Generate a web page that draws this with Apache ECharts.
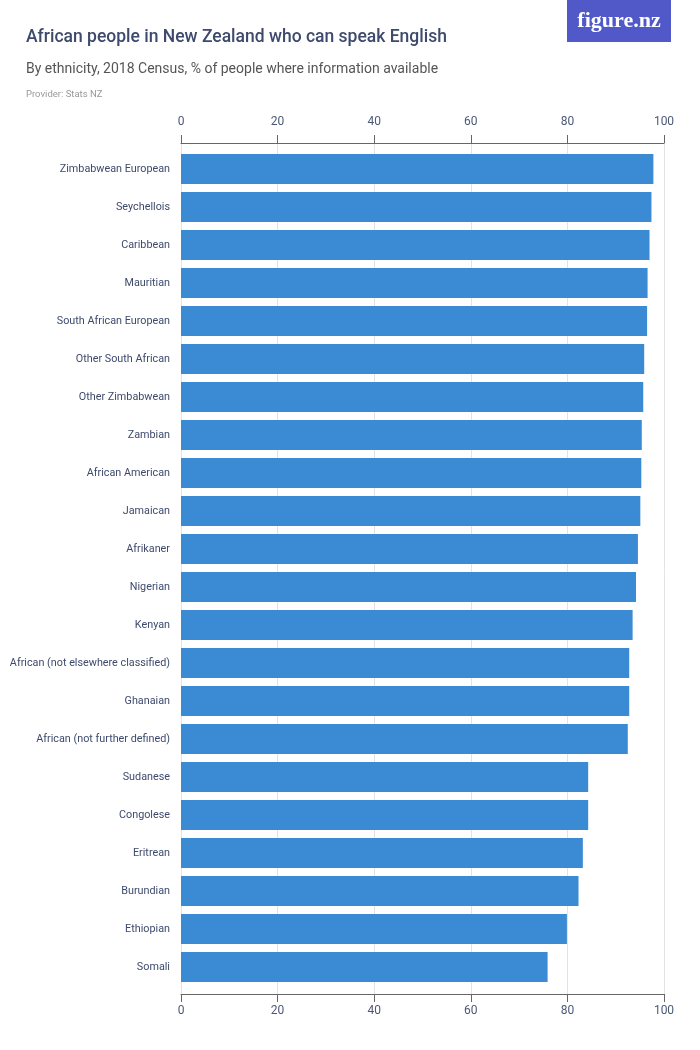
<!DOCTYPE html>
<html>
<head>
<meta charset="utf-8">
<title>African people in New Zealand who can speak English</title>
<script src="https://cdn.jsdelivr.net/npm/echarts@6/dist/echarts.min.js"></script>
<style>
  html, body { margin: 0; padding: 0; background: #fff; }
  #main { width: 700px; height: 1050px; }
</style>
</head>
<body>
<div id="main"></div>
<script>
var ethnicities = [
  'Zimbabwean European', 'Seychellois', 'Caribbean', 'Mauritian', 'South African European',
  'Other South African', 'Other Zimbabwean', 'Zambian', 'African American', 'Jamaican',
  'Afrikaner', 'Nigerian', 'Kenyan', 'African (not elsewhere classified)', 'Ghanaian',
  'African (not further defined)', 'Sudanese', 'Congolese', 'Eritrean', 'Burundian',
  'Ethiopian', 'Somali'
];
var speakEnglish = [
  97.8, 97.4, 97.0, 96.6, 96.5,
  95.9, 95.7, 95.4, 95.3, 95.1,
  94.6, 94.2, 93.5, 92.8, 92.8,
  92.5, 84.3, 84.3, 83.2, 82.3,
  79.9, 75.9
];
var xTicks = [0, 20, 40, 60, 80, 100];

var font = 'Roboto, sans-serif';
var inkBlue = '#3e4a6d';

var myChart = echarts.init(document.getElementById('main'));

// top and bottom value axes sit a few px outside the bar area
function valueAxis(pos, offset, margin) {
  return {
    type: 'value',
    position: pos,
    offset: offset,
    min: xTicks[0],
    max: xTicks[xTicks.length - 1],
    interval: 20,
    axisLine: { show: true, lineStyle: { color: '#666', width: 1 } },
    axisTick: { show: true, length: 8, lineStyle: { color: '#666' } },
    axisLabel: { color: '#4c5877', fontSize: 12, fontFamily: font, margin: margin },
    splitLine: { show: false }
  };
}

var option = {
  backgroundColor: '#fff',
  animation: false,
  title: [
    {
      text: 'African people in New Zealand who can speak English',
      left: 26, top: 29, padding: 0,
      textStyle: { fontSize: 17.5, fontWeight: 500, color: inkBlue, fontFamily: font }
    },
    {
      text: 'By ethnicity, 2018 Census, % of people where information available',
      left: 26, top: 62, padding: 0,
      textStyle: { fontSize: 14, fontWeight: 'normal', color: '#555', fontFamily: font }
    },
    {
      text: 'Provider: Stats NZ',
      left: 26, top: 90, padding: 0,
      textStyle: { fontSize: 9.5, fontWeight: 'normal', color: '#999', fontFamily: font }
    }
  ],
  graphic: [
    {
      type: 'rect',
      left: 567, top: 0,
      shape: { width: 104, height: 42 },
      style: { fill: '#5159c8' }
    },
    {
      type: 'text',
      x: 619, y: 21,
      style: {
        text: 'figure.nz', fill: '#fff', fontSize: 22,
        fontFamily: '"Liberation Serif", serif', fontWeight: 'bold',
        align: 'center', verticalAlign: 'middle'
      }
    }
  ],
  grid: [
    { left: 181, right: 36, top: 150, bottom: 64, outerBoundsMode: 'none' },
    // full-height grid only for the vertical gridlines
    { left: 181, right: 36, top: 143, bottom: 56, outerBoundsMode: 'none' }
  ],
  xAxis: [
    valueAxis('top', 7, 15),
    valueAxis('bottom', 8, 11),
    {
      type: 'value', gridIndex: 1,
      min: xTicks[0], max: xTicks[xTicks.length - 1], interval: 20,
      axisLine: { show: false }, axisTick: { show: false }, axisLabel: { show: false },
      splitLine: { show: true, lineStyle: { color: '#e3e3e3', width: 1 } }
    }
  ],
  yAxis: [
    {
      type: 'category',
      data: ethnicities,
      inverse: true,
      axisLine: { show: false },
      axisTick: { show: false },
      axisLabel: { color: inkBlue, fontSize: 10.8, fontFamily: font, margin: 11 }
    },
    { type: 'value', gridIndex: 1, show: false, splitLine: { show: false } }
  ],
  series: [{
    type: 'bar',
    xAxisIndex: 0,
    yAxisIndex: 0,
    data: speakEnglish,
    barCategoryGap: '21%',
    itemStyle: { color: '#3a8ad4' }
  }]
};

myChart.setOption(option);
</script>
</body>
</html>
